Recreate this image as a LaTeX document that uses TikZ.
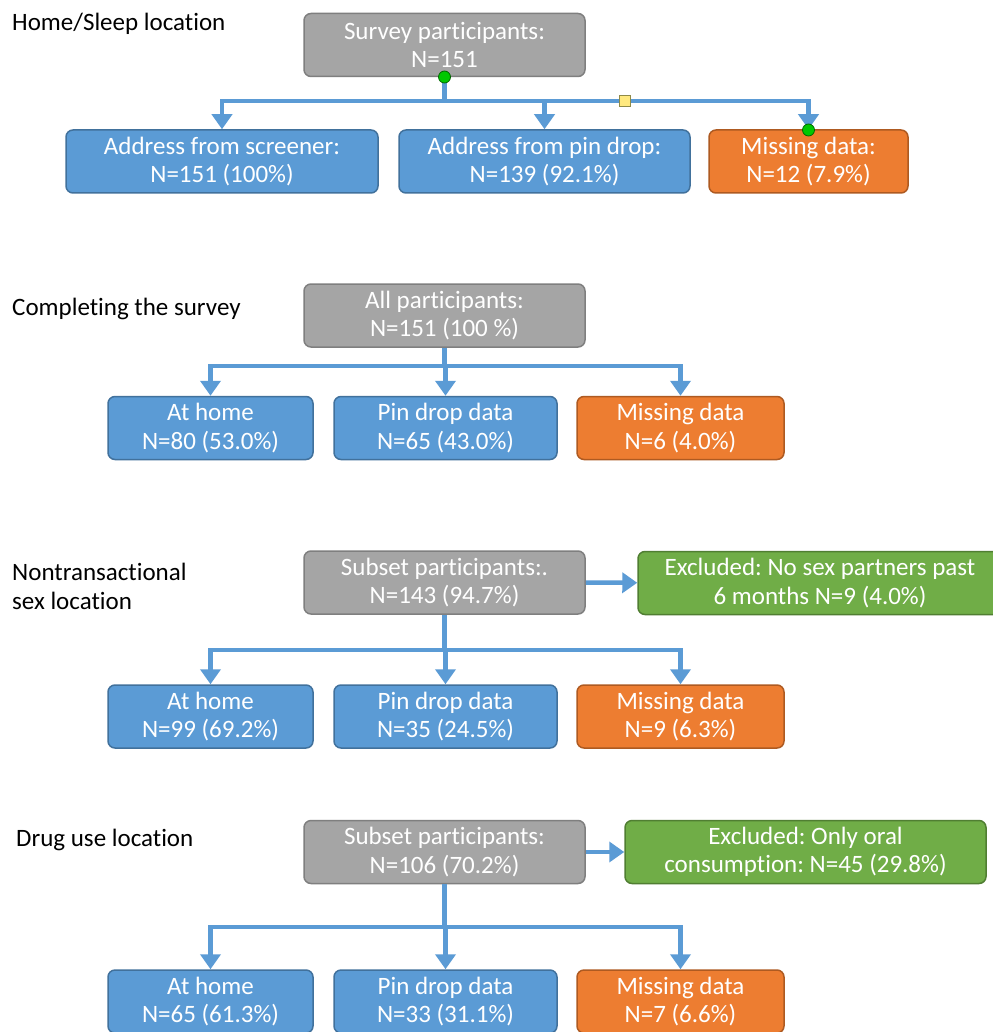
\documentclass[tikz,border=0pt]{standalone}
\usepackage{fontspec}
\setmainfont{Carlito}[Ligatures=NoCommon]
\frenchspacing
\usetikzlibrary{arrows.meta}
\definecolor{boxblue}{HTML}{5B9BD5}
\definecolor{boxblueline}{HTML}{41719C}
\definecolor{boxgray}{HTML}{A5A5A5}
\definecolor{boxgrayline}{HTML}{7F7F7F}
\definecolor{boxorange}{HTML}{ED7D31}
\definecolor{boxorangeline}{HTML}{AE5A21}
\definecolor{boxgreen}{HTML}{70AD47}
\definecolor{boxgreenline}{HTML}{507E32}
\definecolor{handlegreen}{HTML}{00C800}
\definecolor{handleyellow}{HTML}{FFE97F}
\begin{document}
\begin{tikzpicture}[x=1pt,y=-1pt,
    every node/.style={font=\fontsize{25}{28.5}\selectfont},
    box/.style={draw,rounded corners=7pt,line width=1.5pt,text=white,align=center,
        minimum height=63pt,inner sep=0pt},
    graybox/.style={box,fill=boxgray,draw=boxgrayline,minimum width=281pt},
    bluebox/.style={box,fill=boxblue,draw=boxblueline},
    orangebox/.style={box,fill=boxorange,draw=boxorangeline},
    greenbox/.style={box,fill=boxgreen,draw=boxgreenline},
    title/.style={anchor=west,align=left,inner sep=0pt},
    flow/.style={draw=boxblue,line width=4.5pt,-{Triangle[length=15pt,width=20pt]}},
    bar/.style={draw=boxblue,line width=4.5pt},
    handle/.style={circle,draw=black!60!green,fill=handlegreen,line width=0.8pt,
        minimum size=12pt,inner sep=0pt},
    knob/.style={rectangle,draw=black!50!yellow,fill=handleyellow,line width=0.8pt,
        minimum size=11pt,inner sep=0pt}]
    \path[fill=white,use as bounding box] (0,0) rectangle (992,1032);

    \node[title] (T1) at (12,24) {Home/Sleep location};
    \node[graybox] (S1) at (444.5,45) {Survey participants:\\N=151};
    \node[bluebox,minimum width=312pt] (A1) at (222,161.5) {Address from screener:\\N=151 (100\%)};
    \node[bluebox,minimum width=291pt] (B1) at (544.5,161.5) {Address from pin drop:\\N=139 (92.1\%)};
    \node[orangebox,minimum width=199pt] (C1) at (808.5,161.5) {Missing data:\\N=12 (7.9\%)};
    \coordinate (J1) at (444.5,101);

    \node[title] (T2) at (12,309) {Completing the survey};
    \node[graybox] (S2) at (444.5,315.5) {All participants:\\N=151 (100 \%)};
    \node[bluebox,minimum width=205pt] (A2) at (210.5,428) {At home\\N=80 (53.0\%)};
    \node[bluebox,minimum width=223pt] (B2) at (445.5,428) {Pin drop data\\N=65 (43.0\%)};
    \node[orangebox,minimum width=207pt] (C2) at (680.5,428) {Missing data\\N=6 (4.0\%)};
    \coordinate (J2) at (444.5,366);

    \node[title] (T3) at (12,586.5) {Nontransactional\\sex location};
    \node[graybox] (S3) at (444.5,582.5) {Subset participants:.\\N=143 (94.7\%)};
    \node[greenbox,minimum width=364pt] (E3) at (820,583) {Excluded: No sex partners past\\6 months N=9 (4.0\%)};
    \node[bluebox,minimum width=205pt] (A3) at (210.5,716.5) {At home\\N=99 (69.2\%)};
    \node[bluebox,minimum width=223pt] (B3) at (445.5,716.5) {Pin drop data\\N=35 (24.5\%)};
    \node[orangebox,minimum width=207pt] (C3) at (680.5,716.5) {Missing data\\N=9 (6.3\%)};
    \coordinate (J3) at (444.5,650);

    \node[title] (T4) at (16,840) {Drug use location};
    \node[graybox] (S4) at (444.5,852) {Subset participants:\\N=106 (70.2\%)};
    \node[greenbox,minimum width=361pt] (E4) at (805.5,852) {Excluded: Only oral\\consumption: N=45 (29.8\%)};
    \node[bluebox,minimum width=205pt] (A4) at (210.5,1001.5) {At home\\N=65 (61.3\%)};
    \node[bluebox,minimum width=223pt] (B4) at (445.5,1001.5) {Pin drop data\\N=33 (31.1\%)};
    \node[orangebox,minimum width=207pt] (C4) at (680.5,1001.5) {Missing data\\N=7 (6.6\%)};
    \coordinate (J4) at (444.5,927);

    \draw[bar] (S1) -- (J1);
    \draw[flow] (J1) -| (A1);
    \draw[flow] (J1) -| (B1);
    \draw[flow] (J1) -| (C1);
    \draw[bar] (S2) -- (J2);
    \draw[flow] (J2) -| (A2);
    \draw[flow] (J2) -| (B2);
    \draw[flow] (J2) -| (C2);
    \draw[bar] (S3) -- (J3);
    \draw[flow] (J3) -| (A3);
    \draw[flow] (J3) -| (B3);
    \draw[flow] (J3) -| (C3);
    \draw[bar] (S4) -- (J4);
    \draw[flow] (J4) -| (A4);
    \draw[flow] (J4) -| (B4);
    \draw[flow] (J4) -| (C4);
    \draw (S3) edge[flow] (E3);
    \draw (S4) edge[flow] (E4);

    \node[handle] (H1) at (444.5,77) {};
    \node[handle] (H2) at (808.5,130) {};
    \node[knob] (K1) at (625,101) {};
\end{tikzpicture}
\end{document}
